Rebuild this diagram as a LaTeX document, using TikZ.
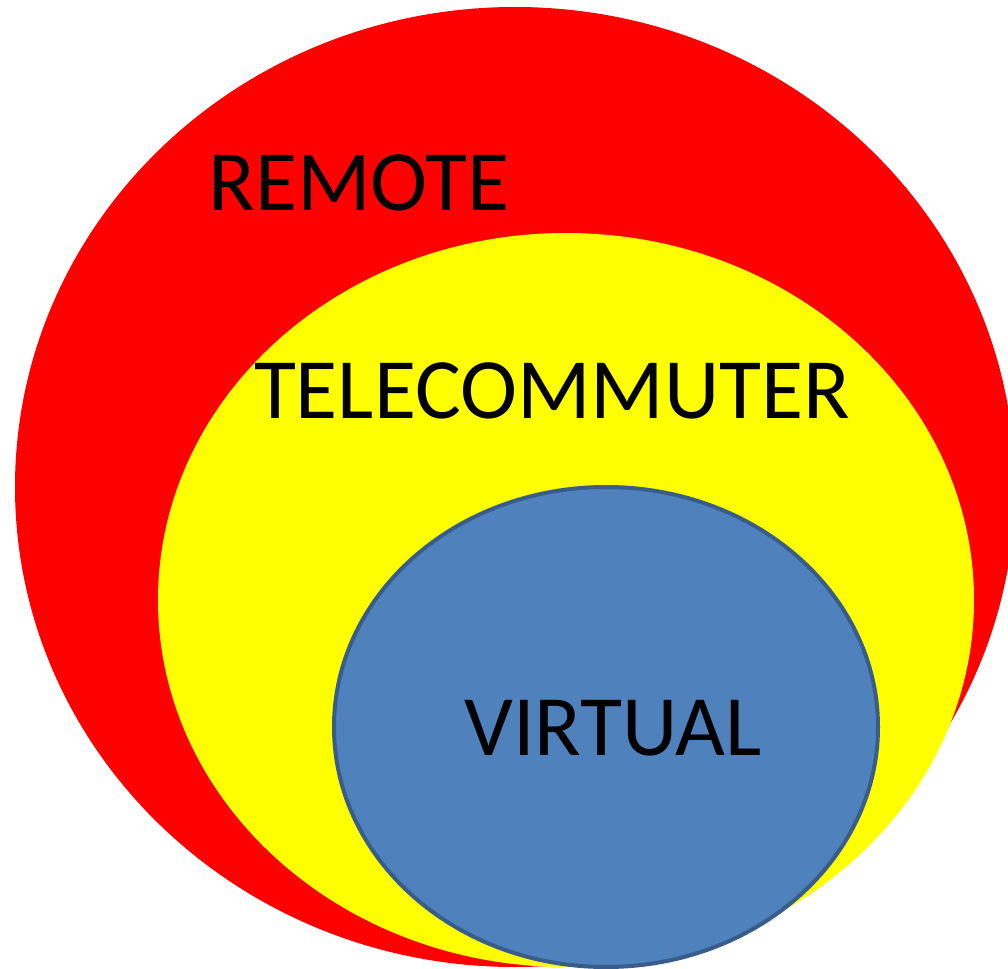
\documentclass[tikz,border=0pt]{standalone}
\usepackage{fontspec}
\setmainfont{Carlito}
\usepackage{tikz}
\usetikzlibrary{positioning}
\definecolor{remotered}{HTML}{FF0000}
\definecolor{teleyellow}{HTML}{FFFF00}
\definecolor{virtblue}{HTML}{4F81BD}
\definecolor{virtedge}{HTML}{385D8A}

\begin{document}
\begin{tikzpicture}[x=0.5pt, y=-0.5pt, label/.style={anchor=base, inner sep=0pt, font=\fontsize{43}{51}\selectfont}]
  \clip (0,0) rectangle (1008,969);
  \fill [remotered] (515,487) ellipse [x radius=500, y radius=480];
  \fill [teleyellow] (566,600) ellipse [x radius=408, y radius=367];
  \draw [virtedge, fill=virtblue, line width=2pt] (606,727) ellipse [x radius=272, y radius=240];
  \node (remote) at (359,210) [label] {REMOTE};
  \node (tele) at (552,418) [label] {TELECOMMUTER};
  \node (virtual) at (613,755) [label] {VIRTUAL};
\end{tikzpicture}
\end{document}
